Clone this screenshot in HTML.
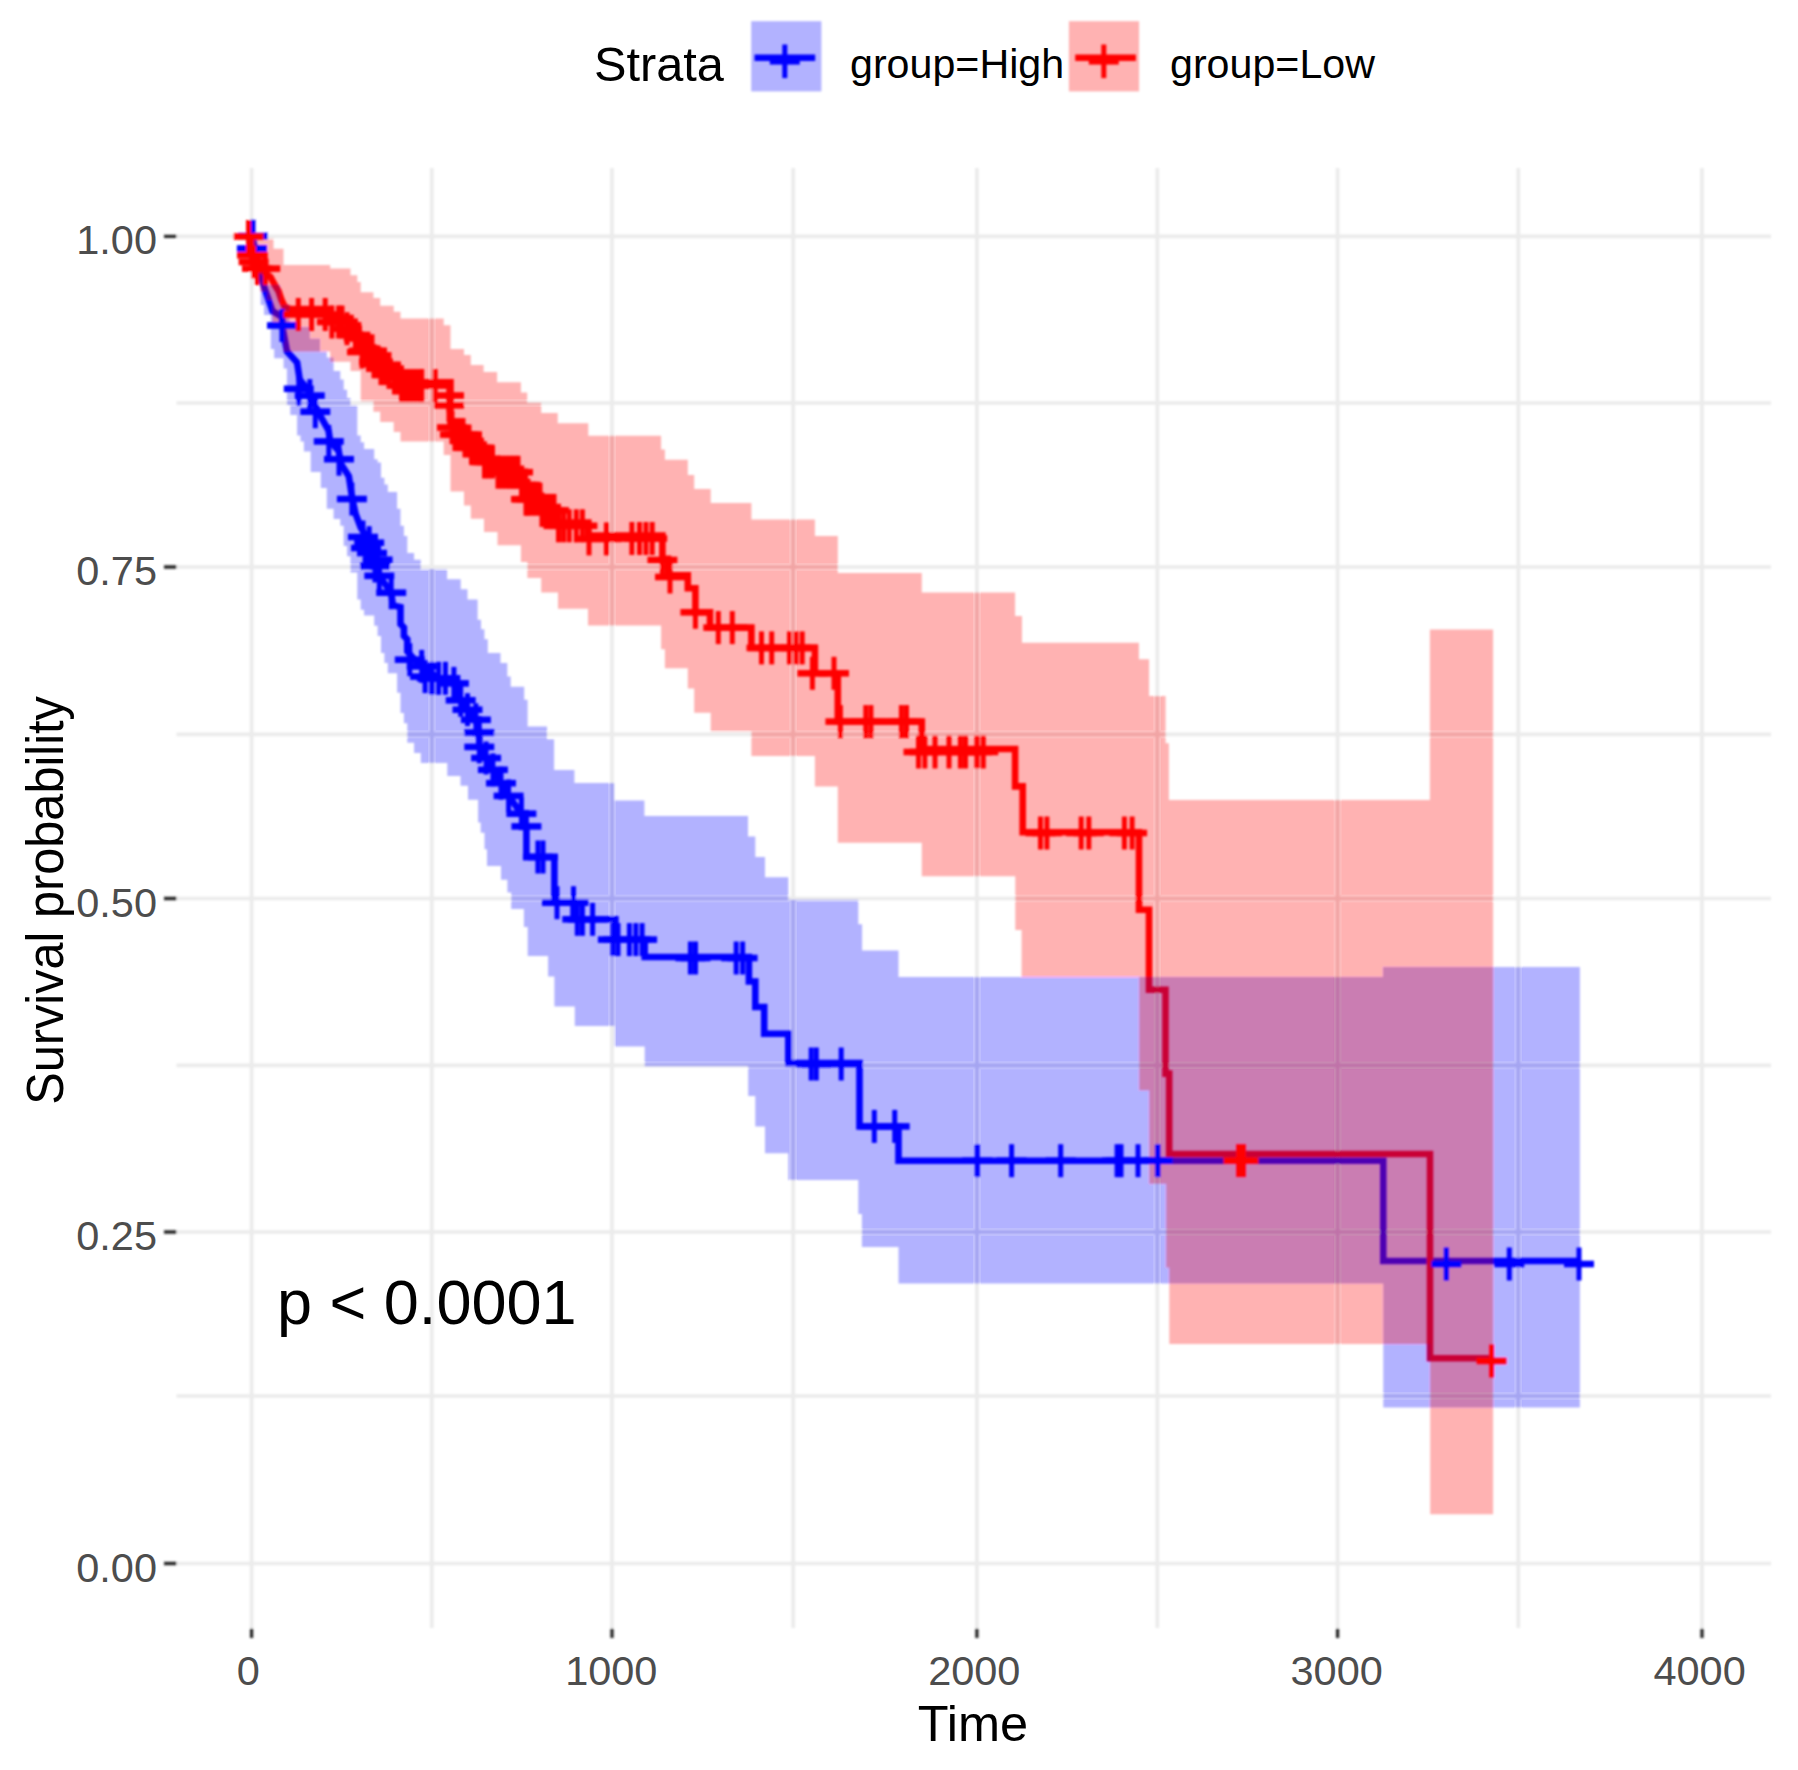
<!DOCTYPE html>
<html><head><meta charset="utf-8"><title>Survival plot</title>
<style>
html,body{margin:0;padding:0;background:#fff;}
svg{display:block;}
text{font-family:"Liberation Sans",Arial,sans-serif;}
</style></head><body>
<svg width="1798" height="1770" viewBox="0 0 1798 1770">
<rect width="1798" height="1770" fill="#fff"/>
<defs><filter id="soft" x="0" y="0" width="1798" height="1770" filterUnits="userSpaceOnUse"><feGaussianBlur stdDeviation="0.9"/></filter></defs>
<g filter="url(#soft)">
<path d="M251.6 168V1628M431.8 168V1628M612 168V1628M793.2 168V1628M976.9 168V1628M1157.3 168V1628M1337.6 168V1628M1518.3 168V1628M1702 168V1628M176.5 236.4H1771M176.5 403H1771M176.5 567H1771M176.5 734.3H1771M176.5 898.5H1771M176.5 1065.4H1771M176.5 1232H1771M176.5 1396H1771M176.5 1563.5H1771" stroke="#EBEBEB" stroke-width="3.7" fill="none"/>
<path d="M251.6 1628.5V1638M612 1628.5V1638M976.9 1628.5V1638M1337.6 1628.5V1638M1702 1628.5V1638M164.0 236.4H176.5M164.0 567H176.5M164.0 898.5H176.5M164.0 1232H176.5M164.0 1563.5H176.5" stroke="#262626" stroke-width="3.3" fill="none"/>
<polyline points="251.6,236.0 255.0,250.0 263.6,285.5 269.7,303.0 272.5,311.0 282.0,317.0 283.0,330.0 287.0,351.5 297.1,362.5 299.7,379.5 308.1,389.7 314.9,404.9 321.7,418.5 328.5,430.3 330.2,441.4 338.6,450.7 341.2,464.2 348.8,476.1 352.2,498.1 355.6,513.9 360.7,527.5 365.8,535.9 369.2,542.7 377.6,559.7 379.3,575.8 391.2,592.7 392.9,605.4 400.5,607.1 400.5,624.1 403.9,627.5 403.9,635.9 407.3,639.3 407.3,651.2 411.5,656.3 421.7,666.4 438.6,678.3 453.9,683.4 460.7,700.3 467.5,709.7 475.9,719.8 479.3,732.5 479.3,746.9 486.1,758.0 492.9,769.8 501.0,783.0 508.6,796.0 521.4,813.7 526.4,826.4 526.4,857.0 554.4,857.0 554.4,902.7 573.5,902.7 573.5,919.3 615.4,919.3 615.4,939.6 644.7,939.6 644.7,957.0 748.9,957.0 748.9,981.5 755.3,981.5 755.3,1007.0 764.2,1007.0 764.2,1033.7 788.3,1033.7 788.3,1063.0 859.5,1063.0 859.5,1126.5 898.5,1126.5 898.5,1160.7 1383.3,1160.7 1383.3,1261.0 1579.9,1261.0" stroke="#0000FF" stroke-width="6.6" fill="none" stroke-linejoin="miter"/>
<polyline points="251.6,236.0 253.0,260.0 261.0,270.0 270.5,277.0 274.5,284.5 278.5,291.0 281.5,300.0 284.5,306.5 290.0,309.0 330.2,309.0 330.2,318.0 350.5,318.0 350.5,325.4 357.3,325.4 357.3,334.7 360.7,334.7 360.7,347.5 373.4,347.5 373.4,358.5 380.2,358.5 380.2,365.3 393.7,365.3 393.7,374.7 400.5,374.7 400.5,382.3 450.5,382.3 450.5,424.2 454.0,424.2 454.0,431.3 464.0,431.3 464.0,437.7 470.8,437.7 470.8,444.5 483.6,444.5 483.6,458.7 497.1,458.7 497.1,468.9 520.9,468.9 520.9,481.7 527.2,481.7 527.2,495.9 541.2,495.9 541.2,507.1 557.7,507.1 557.7,522.5 588.3,522.5 588.3,535.6 662.4,535.6 662.4,558.9 668.0,558.9 668.0,575.4 687.8,575.4 687.8,588.2 695.4,588.2 695.4,612.3 710.0,612.3 710.0,627.6 751.4,627.6 751.4,647.9 814.9,647.9 814.9,673.3 837.8,673.3 837.8,721.6 921.8,721.6 921.8,749.0 1015.1,749.0 1015.1,786.4 1022.7,786.4 1022.7,832.2 1139.0,832.2 1139.0,909.7 1149.0,909.7 1149.0,989.8 1165.5,989.8 1165.5,1073.6 1169.2,1073.6 1169.2,1154.0 1430.0,1154.0 1430.0,1358.2 1491.5,1358.2" stroke="#FF0000" stroke-width="6.6" fill="none" stroke-linejoin="miter"/>
<polygon points="251.6,236.0 258.0,236.0 258.0,262.0 268.0,262.0 268.0,285.0 280.0,285.0 280.0,305.0 289.5,305.0 289.5,327.0 309.8,327.0 309.8,338.8 320.0,338.8 320.0,351.5 326.8,351.5 326.8,357.5 333.6,357.5 333.6,371.0 340.3,371.0 340.3,379.5 343.7,379.5 343.7,389.7 347.1,389.7 347.1,398.1 350.5,398.1 350.5,404.9 357.3,404.9 357.3,435.4 360.7,435.4 360.7,442.2 364.1,442.2 364.1,449.0 374.2,449.0 374.2,459.2 377.6,459.2 377.6,462.5 381.0,462.5 381.0,477.8 384.4,477.8 384.4,484.6 387.8,484.6 387.8,492.0 397.1,492.0 397.1,508.8 400.5,508.8 400.5,525.8 403.9,525.8 403.9,535.9 407.3,535.9 407.3,552.9 414.1,552.9 414.1,559.7 420.8,559.7 420.8,569.0 447.1,569.0 447.1,579.2 460.7,579.2 460.7,589.3 467.5,589.3 467.5,599.5 477.6,599.5 477.6,619.8 481.0,619.8 481.0,629.2 484.4,629.2 484.4,639.3 487.8,639.3 487.8,652.9 500.5,652.9 500.5,663.1 507.3,663.1 507.3,676.6 510.7,676.6 510.7,686.8 524.2,686.8 524.2,699.8 527.6,699.8 527.6,726.6 547.0,726.6 547.0,739.3 554.1,739.3 554.1,770.0 574.4,770.0 574.4,783.0 614.2,783.0 614.2,800.4 644.4,800.4 644.4,816.0 748.0,816.0 748.0,836.4 755.3,836.4 755.3,857.0 765.0,857.0 765.0,877.3 788.3,877.3 788.3,899.7 858.3,899.7 858.3,924.3 862.1,924.3 862.1,950.5 898.5,950.5 898.5,977.0 1383.0,977.0 1383.0,967.0 1579.9,967.0 1579.9,1407.4 1383.3,1407.4 1383.3,1283.6 898.5,1283.6 898.5,1247.1 861.9,1247.1 861.9,1214.1 858.3,1214.1 858.3,1180.0 788.3,1180.0 788.3,1153.2 765.0,1153.2 765.0,1126.5 755.3,1126.5 755.3,1096.0 748.2,1096.0 748.2,1066.2 644.7,1066.2 644.7,1046.4 614.2,1046.4 614.2,1026.0 574.8,1026.0 574.8,1006.5 554.4,1006.5 554.4,976.5 548.1,976.5 548.1,956.1 527.7,956.1 527.7,926.9 523.9,926.9 523.9,909.1 511.2,909.1 511.2,892.6 507.4,892.6 507.4,879.8 501.0,879.8 501.0,865.9 487.0,865.9 487.0,849.3 484.5,849.3 484.5,832.8 480.7,832.8 480.7,822.6 478.1,822.6 478.1,799.8 468.0,799.8 468.0,785.8 460.5,785.8 460.5,776.0 447.3,776.0 447.3,763.0 420.8,763.0 420.8,752.9 414.1,752.9 414.1,742.7 407.3,742.7 407.3,723.2 403.9,723.2 403.9,713.1 400.5,713.1 400.5,692.7 397.1,692.7 397.1,673.2 387.8,673.2 387.8,663.1 384.4,663.1 384.4,652.9 381.0,652.9 381.0,635.9 377.6,635.9 377.6,625.8 374.2,625.8 374.2,615.6 364.1,615.6 364.1,609.7 360.7,609.7 360.7,599.5 357.3,599.5 357.3,572.4 350.5,572.4 350.5,556.3 347.1,556.3 347.1,546.1 343.7,546.1 343.7,525.8 340.3,525.8 340.3,519.0 333.6,519.0 333.6,508.8 326.8,508.8 326.8,488.0 320.8,488.0 320.8,471.9 310.7,471.9 310.7,451.5 303.9,451.5 303.9,441.4 300.5,441.4 300.5,435.4 297.1,435.4 297.1,415.1 290.3,415.1 290.3,404.9 286.9,404.9 286.9,368.5 283.6,368.5 283.6,358.3 274.2,358.3 274.2,349.0 270.8,349.0 270.8,315.1 264.1,315.1 264.1,304.9 260.7,304.9 260.7,270.0 256.0,270.0 256.0,245.0 251.6,245.0" fill="#0000FF" fill-opacity="0.3"/>
<polygon points="251.6,236.0 267.0,236.0 267.0,238.6 273.5,238.6 273.5,248.8 283.5,248.8 283.5,265.1 330.2,265.1 330.2,268.5 350.5,268.5 350.5,275.3 357.3,275.3 357.3,282.0 360.7,282.0 360.7,292.2 373.4,292.2 373.4,298.1 380.2,298.1 380.2,305.8 393.7,305.8 393.7,311.7 400.5,311.7 400.5,318.5 443.7,318.5 443.7,325.3 450.5,325.3 450.5,349.0 464.0,349.0 464.0,354.9 470.8,354.9 470.8,365.1 483.6,365.1 483.6,371.9 497.1,371.9 497.1,382.3 520.9,382.3 520.9,392.6 527.2,392.6 527.2,402.8 541.2,402.8 541.2,413.0 557.7,413.0 557.7,423.2 588.3,423.2 588.3,435.8 661.1,435.8 661.1,449.6 664.9,449.6 664.9,459.8 687.8,459.8 687.8,475.0 694.2,475.0 694.2,489.0 710.7,489.0 710.7,503.0 751.4,503.0 751.4,519.5 814.9,519.5 814.9,536.0 837.8,536.0 837.8,572.9 921.8,572.9 921.8,592.6 1015.1,592.6 1015.1,616.0 1022.0,616.0 1022.0,642.7 1138.9,642.7 1138.9,659.3 1149.1,659.3 1149.1,696.1 1165.6,696.1 1165.6,743.2 1168.9,743.2 1168.9,799.9 1429.9,799.9 1429.9,629.4 1493.1,629.4 1493.1,1514.2 1430.2,1514.2 1430.2,1344.0 1169.3,1344.0 1169.3,1267.5 1166.2,1267.5 1166.2,1183.8 1149.3,1183.8 1149.3,1090.3 1139.3,1090.3 1139.3,977.0 1021.6,977.0 1021.6,930.0 1015.3,930.0 1015.3,876.3 921.8,876.3 921.8,842.7 837.8,842.7 837.8,786.4 814.9,786.4 814.9,756.0 751.4,756.0 751.4,731.8 710.7,731.8 710.7,712.7 694.2,712.7 694.2,688.6 687.8,688.6 687.8,668.2 664.9,668.2 664.9,649.2 661.1,649.2 661.1,625.4 588.0,625.4 588.0,608.7 558.0,608.7 558.0,592.4 541.2,592.4 541.2,578.0 527.4,578.0 527.4,562.0 520.9,562.0 520.9,545.3 497.5,545.3 497.5,532.0 484.0,532.0 484.0,518.8 470.8,518.8 470.8,505.4 464.0,505.4 464.0,491.6 450.5,491.6 450.5,454.9 443.7,454.9 443.7,441.4 400.5,441.4 400.5,432.0 393.7,432.0 393.7,421.9 380.2,421.9 380.2,411.7 373.4,411.7 373.4,401.5 360.7,401.5 360.7,371.0 350.5,371.0 350.5,361.7 330.2,361.7 330.2,351.5 283.6,351.5 283.6,322.0 272.5,322.0 272.5,300.0 267.0,300.0 267.0,291.6 260.0,291.6 260.0,265.0 256.0,265.0 256.0,250.0 251.6,250.0" fill="#FF0000" fill-opacity="0.3"/>
<g>
<path d="M238.0 236.0H268.0" stroke="#0000FF" stroke-width="6.6" fill="none"/><path d="M253.0 219.5V252.5" stroke="#0000FF" stroke-width="5.0" fill="none"/>
<path d="M351.0 548.0H381.0" stroke="#0000FF" stroke-width="6.6" fill="none"/><path d="M366.0 531.5V564.5" stroke="#0000FF" stroke-width="5.0" fill="none"/>
<path d="M357.0 553.0H387.0" stroke="#0000FF" stroke-width="6.6" fill="none"/><path d="M372.0 536.5V569.5" stroke="#0000FF" stroke-width="5.0" fill="none"/>
<path d="M360.0 566.0H390.0" stroke="#0000FF" stroke-width="6.6" fill="none"/><path d="M375.0 549.5V582.5" stroke="#0000FF" stroke-width="5.0" fill="none"/>
<path d="M348.0 537.0H378.0" stroke="#0000FF" stroke-width="6.6" fill="none"/><path d="M363.0 520.5V553.5" stroke="#0000FF" stroke-width="5.0" fill="none"/>
<path d="M236.9 248.5H266.9" stroke="#0000FF" stroke-width="6.6" fill="none"/><path d="M251.9 232.0V265.0" stroke="#0000FF" stroke-width="5.0" fill="none"/>
<path d="M267.0 325.5H297.0" stroke="#0000FF" stroke-width="6.6" fill="none"/><path d="M282.0 309.0V342.0" stroke="#0000FF" stroke-width="5.0" fill="none"/>
<path d="M283.8 388.8H313.8" stroke="#0000FF" stroke-width="6.6" fill="none"/><path d="M298.8 372.3V405.3" stroke="#0000FF" stroke-width="5.0" fill="none"/>
<path d="M294.8 395.6H324.8" stroke="#0000FF" stroke-width="6.6" fill="none"/><path d="M309.8 379.1V412.1" stroke="#0000FF" stroke-width="5.0" fill="none"/>
<path d="M300.3 411.7H330.3" stroke="#0000FF" stroke-width="6.6" fill="none"/><path d="M315.3 395.2V428.2" stroke="#0000FF" stroke-width="5.0" fill="none"/>
<path d="M313.8 441.4H343.8" stroke="#0000FF" stroke-width="6.6" fill="none"/><path d="M328.8 424.9V457.9" stroke="#0000FF" stroke-width="5.0" fill="none"/>
<path d="M324.0 459.2H354.0" stroke="#0000FF" stroke-width="6.6" fill="none"/><path d="M339.0 442.7V475.7" stroke="#0000FF" stroke-width="5.0" fill="none"/>
<path d="M336.9 499.0H366.9" stroke="#0000FF" stroke-width="6.6" fill="none"/><path d="M351.9 482.5V515.5" stroke="#0000FF" stroke-width="5.0" fill="none"/>
<path d="M354.2 542.7H384.2" stroke="#0000FF" stroke-width="6.6" fill="none"/><path d="M369.2 526.2V559.2" stroke="#0000FF" stroke-width="5.0" fill="none"/>
<path d="M362.6 559.7H392.6" stroke="#0000FF" stroke-width="6.6" fill="none"/><path d="M377.6 543.2V576.2" stroke="#0000FF" stroke-width="5.0" fill="none"/>
<path d="M364.3 575.8H394.3" stroke="#0000FF" stroke-width="6.6" fill="none"/><path d="M379.3 559.3V592.3" stroke="#0000FF" stroke-width="5.0" fill="none"/>
<path d="M376.2 592.7H406.2" stroke="#0000FF" stroke-width="6.6" fill="none"/><path d="M391.2 576.2V609.2" stroke="#0000FF" stroke-width="5.0" fill="none"/>
<path d="M394.8 659.7H424.8" stroke="#0000FF" stroke-width="6.6" fill="none"/><path d="M409.8 643.2V676.2" stroke="#0000FF" stroke-width="5.0" fill="none"/>
<path d="M406.7 666.4H436.7" stroke="#0000FF" stroke-width="6.6" fill="none"/><path d="M421.7 649.9V682.9" stroke="#0000FF" stroke-width="5.0" fill="none"/>
<path d="M410.1 676.6H440.1" stroke="#0000FF" stroke-width="6.6" fill="none"/><path d="M425.1 660.1V693.1" stroke="#0000FF" stroke-width="5.0" fill="none"/>
<path d="M416.9 678.3H446.9" stroke="#0000FF" stroke-width="6.6" fill="none"/><path d="M431.9 661.8V694.8" stroke="#0000FF" stroke-width="5.0" fill="none"/>
<path d="M423.6 678.3H453.6" stroke="#0000FF" stroke-width="6.6" fill="none"/><path d="M438.6 661.8V694.8" stroke="#0000FF" stroke-width="5.0" fill="none"/>
<path d="M430.4 678.3H460.4" stroke="#0000FF" stroke-width="6.6" fill="none"/><path d="M445.4 661.8V694.8" stroke="#0000FF" stroke-width="5.0" fill="none"/>
<path d="M438.9 683.4H468.9" stroke="#0000FF" stroke-width="6.6" fill="none"/><path d="M453.9 666.9V699.9" stroke="#0000FF" stroke-width="5.0" fill="none"/>
<path d="M445.7 700.3H475.7" stroke="#0000FF" stroke-width="6.6" fill="none"/><path d="M460.7 683.8V716.8" stroke="#0000FF" stroke-width="5.0" fill="none"/>
<path d="M452.5 709.7H482.5" stroke="#0000FF" stroke-width="6.6" fill="none"/><path d="M467.5 693.2V726.2" stroke="#0000FF" stroke-width="5.0" fill="none"/>
<path d="M460.9 719.8H490.9" stroke="#0000FF" stroke-width="6.6" fill="none"/><path d="M475.9 703.3V736.3" stroke="#0000FF" stroke-width="5.0" fill="none"/>
<path d="M464.3 732.5H494.3" stroke="#0000FF" stroke-width="6.6" fill="none"/><path d="M479.3 716.0V749.0" stroke="#0000FF" stroke-width="5.0" fill="none"/>
<path d="M464.3 746.9H494.3" stroke="#0000FF" stroke-width="6.6" fill="none"/><path d="M479.3 730.4V763.4" stroke="#0000FF" stroke-width="5.0" fill="none"/>
<path d="M471.1 758.0H501.1" stroke="#0000FF" stroke-width="6.6" fill="none"/><path d="M486.1 741.5V774.5" stroke="#0000FF" stroke-width="5.0" fill="none"/>
<path d="M477.9 769.8H507.9" stroke="#0000FF" stroke-width="6.6" fill="none"/><path d="M492.9 753.3V786.3" stroke="#0000FF" stroke-width="5.0" fill="none"/>
<path d="M486.0 783.2H516.0" stroke="#0000FF" stroke-width="6.6" fill="none"/><path d="M501.0 766.7V799.7" stroke="#0000FF" stroke-width="5.0" fill="none"/>
<path d="M493.6 795.9H523.6" stroke="#0000FF" stroke-width="6.6" fill="none"/><path d="M508.6 779.4V812.4" stroke="#0000FF" stroke-width="5.0" fill="none"/>
<path d="M506.4 813.7H536.4" stroke="#0000FF" stroke-width="6.6" fill="none"/><path d="M521.4 797.2V830.2" stroke="#0000FF" stroke-width="5.0" fill="none"/>
<path d="M511.4 826.4H541.4" stroke="#0000FF" stroke-width="6.6" fill="none"/><path d="M526.4 809.9V842.9" stroke="#0000FF" stroke-width="5.0" fill="none"/>
<path d="M522.9 857.0H552.9" stroke="#0000FF" stroke-width="6.6" fill="none"/><path d="M537.9 840.5V873.5" stroke="#0000FF" stroke-width="5.0" fill="none"/>
<path d="M528.0 857.0H558.0" stroke="#0000FF" stroke-width="6.6" fill="none"/><path d="M543.0 840.5V873.5" stroke="#0000FF" stroke-width="5.0" fill="none"/>
<path d="M542.0 902.7H572.0" stroke="#0000FF" stroke-width="6.6" fill="none"/><path d="M557.0 886.2V919.2" stroke="#0000FF" stroke-width="5.0" fill="none"/>
<path d="M558.5 902.7H588.5" stroke="#0000FF" stroke-width="6.6" fill="none"/><path d="M573.5 886.2V919.2" stroke="#0000FF" stroke-width="5.0" fill="none"/>
<path d="M562.3 919.3H592.3" stroke="#0000FF" stroke-width="6.6" fill="none"/><path d="M577.3 902.8V935.8" stroke="#0000FF" stroke-width="5.0" fill="none"/>
<path d="M567.4 919.3H597.4" stroke="#0000FF" stroke-width="6.6" fill="none"/><path d="M582.4 902.8V935.8" stroke="#0000FF" stroke-width="5.0" fill="none"/>
<path d="M577.6 919.3H607.6" stroke="#0000FF" stroke-width="6.6" fill="none"/><path d="M592.6 902.8V935.8" stroke="#0000FF" stroke-width="5.0" fill="none"/>
<path d="M597.9 939.6H627.9" stroke="#0000FF" stroke-width="6.6" fill="none"/><path d="M612.9 923.1V956.1" stroke="#0000FF" stroke-width="5.0" fill="none"/>
<path d="M603.0 939.6H633.0" stroke="#0000FF" stroke-width="6.6" fill="none"/><path d="M618.0 923.1V956.1" stroke="#0000FF" stroke-width="5.0" fill="none"/>
<path d="M614.4 939.6H644.4" stroke="#0000FF" stroke-width="6.6" fill="none"/><path d="M629.4 923.1V956.1" stroke="#0000FF" stroke-width="5.0" fill="none"/>
<path d="M620.8 939.6H650.8" stroke="#0000FF" stroke-width="6.6" fill="none"/><path d="M635.8 923.1V956.1" stroke="#0000FF" stroke-width="5.0" fill="none"/>
<path d="M627.1 939.6H657.1" stroke="#0000FF" stroke-width="6.6" fill="none"/><path d="M642.1 923.1V956.1" stroke="#0000FF" stroke-width="5.0" fill="none"/>
<path d="M675.4 958.0H705.4" stroke="#0000FF" stroke-width="6.6" fill="none"/><path d="M690.4 941.5V974.5" stroke="#0000FF" stroke-width="5.0" fill="none"/>
<path d="M680.5 958.0H710.5" stroke="#0000FF" stroke-width="6.6" fill="none"/><path d="M695.5 941.5V974.5" stroke="#0000FF" stroke-width="5.0" fill="none"/>
<path d="M721.2 958.0H751.2" stroke="#0000FF" stroke-width="6.6" fill="none"/><path d="M736.2 941.5V974.5" stroke="#0000FF" stroke-width="5.0" fill="none"/>
<path d="M727.6 958.0H757.6" stroke="#0000FF" stroke-width="6.6" fill="none"/><path d="M742.6 941.5V974.5" stroke="#0000FF" stroke-width="5.0" fill="none"/>
<path d="M796.2 1064.0H826.2" stroke="#0000FF" stroke-width="6.6" fill="none"/><path d="M811.2 1047.5V1080.5" stroke="#0000FF" stroke-width="5.0" fill="none"/>
<path d="M801.3 1064.0H831.3" stroke="#0000FF" stroke-width="6.6" fill="none"/><path d="M816.3 1047.5V1080.5" stroke="#0000FF" stroke-width="5.0" fill="none"/>
<path d="M826.2 1064.0H856.2" stroke="#0000FF" stroke-width="6.6" fill="none"/><path d="M841.2 1047.5V1080.5" stroke="#0000FF" stroke-width="5.0" fill="none"/>
<path d="M859.3 1126.4H889.3" stroke="#0000FF" stroke-width="6.6" fill="none"/><path d="M874.3 1109.9V1142.9" stroke="#0000FF" stroke-width="5.0" fill="none"/>
<path d="M879.7 1126.4H909.7" stroke="#0000FF" stroke-width="6.6" fill="none"/><path d="M894.7 1109.9V1142.9" stroke="#0000FF" stroke-width="5.0" fill="none"/>
<path d="M962.3 1160.7H992.3" stroke="#0000FF" stroke-width="6.6" fill="none"/><path d="M977.3 1144.2V1177.2" stroke="#0000FF" stroke-width="5.0" fill="none"/>
<path d="M996.6 1160.7H1026.6" stroke="#0000FF" stroke-width="6.6" fill="none"/><path d="M1011.6 1144.2V1177.2" stroke="#0000FF" stroke-width="5.0" fill="none"/>
<path d="M1045.7 1160.7H1075.7" stroke="#0000FF" stroke-width="6.6" fill="none"/><path d="M1060.7 1144.2V1177.2" stroke="#0000FF" stroke-width="5.0" fill="none"/>
<path d="M1102.1 1160.7H1132.1" stroke="#0000FF" stroke-width="6.6" fill="none"/><path d="M1117.1 1144.2V1177.2" stroke="#0000FF" stroke-width="5.0" fill="none"/>
<path d="M1106.0 1160.7H1136.0" stroke="#0000FF" stroke-width="6.6" fill="none"/><path d="M1121.0 1144.2V1177.2" stroke="#0000FF" stroke-width="5.0" fill="none"/>
<path d="M1123.0 1160.7H1153.0" stroke="#0000FF" stroke-width="6.6" fill="none"/><path d="M1138.0 1144.2V1177.2" stroke="#0000FF" stroke-width="5.0" fill="none"/>
<path d="M1142.8 1160.7H1172.8" stroke="#0000FF" stroke-width="6.6" fill="none"/><path d="M1157.8 1144.2V1177.2" stroke="#0000FF" stroke-width="5.0" fill="none"/>
<path d="M1431.3 1264.0H1461.3" stroke="#0000FF" stroke-width="6.6" fill="none"/><path d="M1446.3 1247.5V1280.5" stroke="#0000FF" stroke-width="5.0" fill="none"/>
<path d="M1494.3 1264.0H1524.3" stroke="#0000FF" stroke-width="6.6" fill="none"/><path d="M1509.3 1247.5V1280.5" stroke="#0000FF" stroke-width="5.0" fill="none"/>
<path d="M1564.0 1264.0H1594.0" stroke="#0000FF" stroke-width="6.6" fill="none"/><path d="M1579.0 1247.5V1280.5" stroke="#0000FF" stroke-width="5.0" fill="none"/>
</g><g>
<path d="M233.5 236.5H263.5" stroke="#FF0000" stroke-width="6.6" fill="none"/><path d="M248.5 220.0V253.0" stroke="#FF0000" stroke-width="5.0" fill="none"/>
<path d="M237.0 255.3H267.0" stroke="#FF0000" stroke-width="6.6" fill="none"/><path d="M252.0 238.8V271.8" stroke="#FF0000" stroke-width="5.0" fill="none"/>
<path d="M238.6 262.0H268.6" stroke="#FF0000" stroke-width="6.6" fill="none"/><path d="M253.6 245.5V278.5" stroke="#FF0000" stroke-width="5.0" fill="none"/>
<path d="M242.0 268.6H272.0" stroke="#FF0000" stroke-width="6.6" fill="none"/><path d="M257.0 252.1V285.1" stroke="#FF0000" stroke-width="5.0" fill="none"/>
<path d="M250.3 268.6H280.3" stroke="#FF0000" stroke-width="6.6" fill="none"/><path d="M265.3 252.1V285.1" stroke="#FF0000" stroke-width="5.0" fill="none"/>
<path d="M283.3 314.5H313.3" stroke="#FF0000" stroke-width="6.6" fill="none"/><path d="M298.3 298.0V331.0" stroke="#FF0000" stroke-width="5.0" fill="none"/>
<path d="M296.6 314.5H326.6" stroke="#FF0000" stroke-width="6.6" fill="none"/><path d="M311.6 298.0V331.0" stroke="#FF0000" stroke-width="5.0" fill="none"/>
<path d="M310.2 314.5H340.2" stroke="#FF0000" stroke-width="6.6" fill="none"/><path d="M325.2 298.0V331.0" stroke="#FF0000" stroke-width="5.0" fill="none"/>
<path d="M349.0 350.8H379.0" stroke="#FF0000" stroke-width="6.6" fill="none"/><path d="M364.0 334.3V367.3" stroke="#FF0000" stroke-width="5.0" fill="none"/>
<path d="M353.0 350.8H383.0" stroke="#FF0000" stroke-width="6.6" fill="none"/><path d="M368.0 334.3V367.3" stroke="#FF0000" stroke-width="5.0" fill="none"/>
<path d="M357.0 350.8H387.0" stroke="#FF0000" stroke-width="6.6" fill="none"/><path d="M372.0 334.3V367.3" stroke="#FF0000" stroke-width="5.0" fill="none"/>
<path d="M359.0 361.8H389.0" stroke="#FF0000" stroke-width="6.6" fill="none"/><path d="M374.0 345.3V378.3" stroke="#FF0000" stroke-width="5.0" fill="none"/>
<path d="M363.0 361.8H393.0" stroke="#FF0000" stroke-width="6.6" fill="none"/><path d="M378.0 345.3V378.3" stroke="#FF0000" stroke-width="5.0" fill="none"/>
<path d="M366.0 368.6H396.0" stroke="#FF0000" stroke-width="6.6" fill="none"/><path d="M381.0 352.1V385.1" stroke="#FF0000" stroke-width="5.0" fill="none"/>
<path d="M370.0 368.6H400.0" stroke="#FF0000" stroke-width="6.6" fill="none"/><path d="M385.0 352.1V385.1" stroke="#FF0000" stroke-width="5.0" fill="none"/>
<path d="M374.0 368.6H404.0" stroke="#FF0000" stroke-width="6.6" fill="none"/><path d="M389.0 352.1V385.1" stroke="#FF0000" stroke-width="5.0" fill="none"/>
<path d="M379.5 378.0H409.5" stroke="#FF0000" stroke-width="6.6" fill="none"/><path d="M394.5 361.5V394.5" stroke="#FF0000" stroke-width="5.0" fill="none"/>
<path d="M383.5 378.0H413.5" stroke="#FF0000" stroke-width="6.6" fill="none"/><path d="M398.5 361.5V394.5" stroke="#FF0000" stroke-width="5.0" fill="none"/>
<path d="M386.5 385.6H416.5" stroke="#FF0000" stroke-width="6.6" fill="none"/><path d="M401.5 369.1V402.1" stroke="#FF0000" stroke-width="5.0" fill="none"/>
<path d="M390.5 385.6H420.5" stroke="#FF0000" stroke-width="6.6" fill="none"/><path d="M405.5 369.1V402.1" stroke="#FF0000" stroke-width="5.0" fill="none"/>
<path d="M394.5 385.6H424.5" stroke="#FF0000" stroke-width="6.6" fill="none"/><path d="M409.5 369.1V402.1" stroke="#FF0000" stroke-width="5.0" fill="none"/>
<path d="M398.5 385.6H428.5" stroke="#FF0000" stroke-width="6.6" fill="none"/><path d="M413.5 369.1V402.1" stroke="#FF0000" stroke-width="5.0" fill="none"/>
<path d="M402.5 385.6H432.5" stroke="#FF0000" stroke-width="6.6" fill="none"/><path d="M417.5 369.1V402.1" stroke="#FF0000" stroke-width="5.0" fill="none"/>
<path d="M406.5 385.6H436.5" stroke="#FF0000" stroke-width="6.6" fill="none"/><path d="M421.5 369.1V402.1" stroke="#FF0000" stroke-width="5.0" fill="none"/>
<path d="M440.0 434.6H470.0" stroke="#FF0000" stroke-width="6.6" fill="none"/><path d="M455.0 418.1V451.1" stroke="#FF0000" stroke-width="5.0" fill="none"/>
<path d="M444.0 434.6H474.0" stroke="#FF0000" stroke-width="6.6" fill="none"/><path d="M459.0 418.1V451.1" stroke="#FF0000" stroke-width="5.0" fill="none"/>
<path d="M448.0 434.6H478.0" stroke="#FF0000" stroke-width="6.6" fill="none"/><path d="M463.0 418.1V451.1" stroke="#FF0000" stroke-width="5.0" fill="none"/>
<path d="M450.0 441.0H480.0" stroke="#FF0000" stroke-width="6.6" fill="none"/><path d="M465.0 424.5V457.5" stroke="#FF0000" stroke-width="5.0" fill="none"/>
<path d="M454.0 441.0H484.0" stroke="#FF0000" stroke-width="6.6" fill="none"/><path d="M469.0 424.5V457.5" stroke="#FF0000" stroke-width="5.0" fill="none"/>
<path d="M456.5 447.8H486.5" stroke="#FF0000" stroke-width="6.6" fill="none"/><path d="M471.5 431.3V464.3" stroke="#FF0000" stroke-width="5.0" fill="none"/>
<path d="M460.5 447.8H490.5" stroke="#FF0000" stroke-width="6.6" fill="none"/><path d="M475.5 431.3V464.3" stroke="#FF0000" stroke-width="5.0" fill="none"/>
<path d="M464.5 447.8H494.5" stroke="#FF0000" stroke-width="6.6" fill="none"/><path d="M479.5 431.3V464.3" stroke="#FF0000" stroke-width="5.0" fill="none"/>
<path d="M469.5 462.0H499.5" stroke="#FF0000" stroke-width="6.6" fill="none"/><path d="M484.5 445.5V478.5" stroke="#FF0000" stroke-width="5.0" fill="none"/>
<path d="M473.5 462.0H503.5" stroke="#FF0000" stroke-width="6.6" fill="none"/><path d="M488.5 445.5V478.5" stroke="#FF0000" stroke-width="5.0" fill="none"/>
<path d="M477.5 462.0H507.5" stroke="#FF0000" stroke-width="6.6" fill="none"/><path d="M492.5 445.5V478.5" stroke="#FF0000" stroke-width="5.0" fill="none"/>
<path d="M483.0 472.2H513.0" stroke="#FF0000" stroke-width="6.6" fill="none"/><path d="M498.0 455.7V488.7" stroke="#FF0000" stroke-width="5.0" fill="none"/>
<path d="M487.0 472.2H517.0" stroke="#FF0000" stroke-width="6.6" fill="none"/><path d="M502.0 455.7V488.7" stroke="#FF0000" stroke-width="5.0" fill="none"/>
<path d="M491.0 472.2H521.0" stroke="#FF0000" stroke-width="6.6" fill="none"/><path d="M506.0 455.7V488.7" stroke="#FF0000" stroke-width="5.0" fill="none"/>
<path d="M495.0 472.2H525.0" stroke="#FF0000" stroke-width="6.6" fill="none"/><path d="M510.0 455.7V488.7" stroke="#FF0000" stroke-width="5.0" fill="none"/>
<path d="M499.0 472.2H529.0" stroke="#FF0000" stroke-width="6.6" fill="none"/><path d="M514.0 455.7V488.7" stroke="#FF0000" stroke-width="5.0" fill="none"/>
<path d="M503.0 472.2H533.0" stroke="#FF0000" stroke-width="6.6" fill="none"/><path d="M518.0 455.7V488.7" stroke="#FF0000" stroke-width="5.0" fill="none"/>
<path d="M506.5 485.0H536.5" stroke="#FF0000" stroke-width="6.6" fill="none"/><path d="M521.5 468.5V501.5" stroke="#FF0000" stroke-width="5.0" fill="none"/>
<path d="M510.5 485.0H540.5" stroke="#FF0000" stroke-width="6.6" fill="none"/><path d="M525.5 468.5V501.5" stroke="#FF0000" stroke-width="5.0" fill="none"/>
<path d="M513.0 499.2H543.0" stroke="#FF0000" stroke-width="6.6" fill="none"/><path d="M528.0 482.7V515.7" stroke="#FF0000" stroke-width="5.0" fill="none"/>
<path d="M517.0 499.2H547.0" stroke="#FF0000" stroke-width="6.6" fill="none"/><path d="M532.0 482.7V515.7" stroke="#FF0000" stroke-width="5.0" fill="none"/>
<path d="M521.0 499.2H551.0" stroke="#FF0000" stroke-width="6.6" fill="none"/><path d="M536.0 482.7V515.7" stroke="#FF0000" stroke-width="5.0" fill="none"/>
<path d="M525.0 499.2H555.0" stroke="#FF0000" stroke-width="6.6" fill="none"/><path d="M540.0 482.7V515.7" stroke="#FF0000" stroke-width="5.0" fill="none"/>
<path d="M527.0 510.4H557.0" stroke="#FF0000" stroke-width="6.6" fill="none"/><path d="M542.0 493.9V526.9" stroke="#FF0000" stroke-width="5.0" fill="none"/>
<path d="M531.0 510.4H561.0" stroke="#FF0000" stroke-width="6.6" fill="none"/><path d="M546.0 493.9V526.9" stroke="#FF0000" stroke-width="5.0" fill="none"/>
<path d="M535.0 510.4H565.0" stroke="#FF0000" stroke-width="6.6" fill="none"/><path d="M550.0 493.9V526.9" stroke="#FF0000" stroke-width="5.0" fill="none"/>
<path d="M539.0 510.4H569.0" stroke="#FF0000" stroke-width="6.6" fill="none"/><path d="M554.0 493.9V526.9" stroke="#FF0000" stroke-width="5.0" fill="none"/>
<path d="M543.5 525.8H573.5" stroke="#FF0000" stroke-width="6.6" fill="none"/><path d="M558.5 509.3V542.3" stroke="#FF0000" stroke-width="5.0" fill="none"/>
<path d="M316.9 322.0H346.9" stroke="#FF0000" stroke-width="6.6" fill="none"/><path d="M331.9 305.5V338.5" stroke="#FF0000" stroke-width="5.0" fill="none"/>
<path d="M323.6 322.0H353.6" stroke="#FF0000" stroke-width="6.6" fill="none"/><path d="M338.6 305.5V338.5" stroke="#FF0000" stroke-width="5.0" fill="none"/>
<path d="M327.0 322.0H357.0" stroke="#FF0000" stroke-width="6.6" fill="none"/><path d="M342.0 305.5V338.5" stroke="#FF0000" stroke-width="5.0" fill="none"/>
<path d="M332.0 328.7H362.0" stroke="#FF0000" stroke-width="6.6" fill="none"/><path d="M347.0 312.2V345.2" stroke="#FF0000" stroke-width="5.0" fill="none"/>
<path d="M340.4 335.0H370.4" stroke="#FF0000" stroke-width="6.6" fill="none"/><path d="M355.4 318.5V351.5" stroke="#FF0000" stroke-width="5.0" fill="none"/>
<path d="M343.8 338.5H373.8" stroke="#FF0000" stroke-width="6.6" fill="none"/><path d="M358.8 322.0V355.0" stroke="#FF0000" stroke-width="5.0" fill="none"/>
<path d="M347.0 352.0H377.0" stroke="#FF0000" stroke-width="6.6" fill="none"/><path d="M362.0 335.5V368.5" stroke="#FF0000" stroke-width="5.0" fill="none"/>
<path d="M406.7 385.6H436.7" stroke="#FF0000" stroke-width="6.6" fill="none"/><path d="M421.7 369.1V402.1" stroke="#FF0000" stroke-width="5.0" fill="none"/>
<path d="M420.2 385.6H450.2" stroke="#FF0000" stroke-width="6.6" fill="none"/><path d="M435.2 369.1V402.1" stroke="#FF0000" stroke-width="5.0" fill="none"/>
<path d="M434.0 395.5H464.0" stroke="#FF0000" stroke-width="6.6" fill="none"/><path d="M449.0 379.0V412.0" stroke="#FF0000" stroke-width="5.0" fill="none"/>
<path d="M434.0 405.4H464.0" stroke="#FF0000" stroke-width="6.6" fill="none"/><path d="M449.0 388.9V421.9" stroke="#FF0000" stroke-width="5.0" fill="none"/>
<path d="M437.0 427.5H467.0" stroke="#FF0000" stroke-width="6.6" fill="none"/><path d="M452.0 411.0V444.0" stroke="#FF0000" stroke-width="5.0" fill="none"/>
<path d="M511.0 499.2H541.0" stroke="#FF0000" stroke-width="6.6" fill="none"/><path d="M526.0 482.7V515.7" stroke="#FF0000" stroke-width="5.0" fill="none"/>
<path d="M548.6 525.8H578.6" stroke="#FF0000" stroke-width="6.6" fill="none"/><path d="M563.6 509.3V542.3" stroke="#FF0000" stroke-width="5.0" fill="none"/>
<path d="M554.2 525.8H584.2" stroke="#FF0000" stroke-width="6.6" fill="none"/><path d="M569.2 509.3V542.3" stroke="#FF0000" stroke-width="5.0" fill="none"/>
<path d="M561.3 525.8H591.3" stroke="#FF0000" stroke-width="6.6" fill="none"/><path d="M576.3 509.3V542.3" stroke="#FF0000" stroke-width="5.0" fill="none"/>
<path d="M567.4 525.8H597.4" stroke="#FF0000" stroke-width="6.6" fill="none"/><path d="M582.4 509.3V542.3" stroke="#FF0000" stroke-width="5.0" fill="none"/>
<path d="M574.0 538.9H604.0" stroke="#FF0000" stroke-width="6.6" fill="none"/><path d="M589.0 522.4V555.4" stroke="#FF0000" stroke-width="5.0" fill="none"/>
<path d="M591.4 538.9H621.4" stroke="#FF0000" stroke-width="6.6" fill="none"/><path d="M606.4 522.4V555.4" stroke="#FF0000" stroke-width="5.0" fill="none"/>
<path d="M616.9 538.5H646.9" stroke="#FF0000" stroke-width="6.6" fill="none"/><path d="M631.9 522.0V555.0" stroke="#FF0000" stroke-width="5.0" fill="none"/>
<path d="M624.5 538.5H654.5" stroke="#FF0000" stroke-width="6.6" fill="none"/><path d="M639.5 522.0V555.0" stroke="#FF0000" stroke-width="5.0" fill="none"/>
<path d="M630.9 538.5H660.9" stroke="#FF0000" stroke-width="6.6" fill="none"/><path d="M645.9 522.0V555.0" stroke="#FF0000" stroke-width="5.0" fill="none"/>
<path d="M637.2 538.5H667.2" stroke="#FF0000" stroke-width="6.6" fill="none"/><path d="M652.2 522.0V555.0" stroke="#FF0000" stroke-width="5.0" fill="none"/>
<path d="M647.4 560.0H677.4" stroke="#FF0000" stroke-width="6.6" fill="none"/><path d="M662.4 543.5V576.5" stroke="#FF0000" stroke-width="5.0" fill="none"/>
<path d="M655.0 577.0H685.0" stroke="#FF0000" stroke-width="6.6" fill="none"/><path d="M670.0 560.5V593.5" stroke="#FF0000" stroke-width="5.0" fill="none"/>
<path d="M680.4 612.3H710.4" stroke="#FF0000" stroke-width="6.6" fill="none"/><path d="M695.4 595.8V628.8" stroke="#FF0000" stroke-width="5.0" fill="none"/>
<path d="M703.3 627.6H733.3" stroke="#FF0000" stroke-width="6.6" fill="none"/><path d="M718.3 611.1V644.1" stroke="#FF0000" stroke-width="5.0" fill="none"/>
<path d="M717.3 627.6H747.3" stroke="#FF0000" stroke-width="6.6" fill="none"/><path d="M732.3 611.1V644.1" stroke="#FF0000" stroke-width="5.0" fill="none"/>
<path d="M746.5 647.9H776.5" stroke="#FF0000" stroke-width="6.6" fill="none"/><path d="M761.5 631.4V664.4" stroke="#FF0000" stroke-width="5.0" fill="none"/>
<path d="M756.7 647.9H786.7" stroke="#FF0000" stroke-width="6.6" fill="none"/><path d="M771.7 631.4V664.4" stroke="#FF0000" stroke-width="5.0" fill="none"/>
<path d="M774.5 647.9H804.5" stroke="#FF0000" stroke-width="6.6" fill="none"/><path d="M789.5 631.4V664.4" stroke="#FF0000" stroke-width="5.0" fill="none"/>
<path d="M780.9 647.9H810.9" stroke="#FF0000" stroke-width="6.6" fill="none"/><path d="M795.9 631.4V664.4" stroke="#FF0000" stroke-width="5.0" fill="none"/>
<path d="M787.2 647.9H817.2" stroke="#FF0000" stroke-width="6.6" fill="none"/><path d="M802.2 631.4V664.4" stroke="#FF0000" stroke-width="5.0" fill="none"/>
<path d="M797.4 673.3H827.4" stroke="#FF0000" stroke-width="6.6" fill="none"/><path d="M812.4 656.8V689.8" stroke="#FF0000" stroke-width="5.0" fill="none"/>
<path d="M819.0 673.3H849.0" stroke="#FF0000" stroke-width="6.6" fill="none"/><path d="M834.0 656.8V689.8" stroke="#FF0000" stroke-width="5.0" fill="none"/>
<path d="M825.4 721.6H855.4" stroke="#FF0000" stroke-width="6.6" fill="none"/><path d="M840.4 705.1V738.1" stroke="#FF0000" stroke-width="5.0" fill="none"/>
<path d="M850.8 721.6H880.8" stroke="#FF0000" stroke-width="6.6" fill="none"/><path d="M865.8 705.1V738.1" stroke="#FF0000" stroke-width="5.0" fill="none"/>
<path d="M855.9 721.6H885.9" stroke="#FF0000" stroke-width="6.6" fill="none"/><path d="M870.9 705.1V738.1" stroke="#FF0000" stroke-width="5.0" fill="none"/>
<path d="M886.4 721.6H916.4" stroke="#FF0000" stroke-width="6.6" fill="none"/><path d="M901.4 705.1V738.1" stroke="#FF0000" stroke-width="5.0" fill="none"/>
<path d="M891.5 721.6H921.5" stroke="#FF0000" stroke-width="6.6" fill="none"/><path d="M906.5 705.1V738.1" stroke="#FF0000" stroke-width="5.0" fill="none"/>
<path d="M903.5 752.0H933.5" stroke="#FF0000" stroke-width="6.6" fill="none"/><path d="M918.5 735.5V768.5" stroke="#FF0000" stroke-width="5.0" fill="none"/>
<path d="M909.8 752.0H939.8" stroke="#FF0000" stroke-width="6.6" fill="none"/><path d="M924.8 735.5V768.5" stroke="#FF0000" stroke-width="5.0" fill="none"/>
<path d="M920.0 752.0H950.0" stroke="#FF0000" stroke-width="6.6" fill="none"/><path d="M935.0 735.5V768.5" stroke="#FF0000" stroke-width="5.0" fill="none"/>
<path d="M934.0 752.0H964.0" stroke="#FF0000" stroke-width="6.6" fill="none"/><path d="M949.0 735.5V768.5" stroke="#FF0000" stroke-width="5.0" fill="none"/>
<path d="M945.4 752.0H975.4" stroke="#FF0000" stroke-width="6.6" fill="none"/><path d="M960.4 735.5V768.5" stroke="#FF0000" stroke-width="5.0" fill="none"/>
<path d="M950.5 752.0H980.5" stroke="#FF0000" stroke-width="6.6" fill="none"/><path d="M965.5 735.5V768.5" stroke="#FF0000" stroke-width="5.0" fill="none"/>
<path d="M962.0 752.0H992.0" stroke="#FF0000" stroke-width="6.6" fill="none"/><path d="M977.0 735.5V768.5" stroke="#FF0000" stroke-width="5.0" fill="none"/>
<path d="M968.3 752.0H998.3" stroke="#FF0000" stroke-width="6.6" fill="none"/><path d="M983.3 735.5V768.5" stroke="#FF0000" stroke-width="5.0" fill="none"/>
<path d="M1025.5 833.0H1055.5" stroke="#FF0000" stroke-width="6.6" fill="none"/><path d="M1040.5 816.5V849.5" stroke="#FF0000" stroke-width="5.0" fill="none"/>
<path d="M1031.9 833.0H1061.9" stroke="#FF0000" stroke-width="6.6" fill="none"/><path d="M1046.9 816.5V849.5" stroke="#FF0000" stroke-width="5.0" fill="none"/>
<path d="M1066.2 833.0H1096.2" stroke="#FF0000" stroke-width="6.6" fill="none"/><path d="M1081.2 816.5V849.5" stroke="#FF0000" stroke-width="5.0" fill="none"/>
<path d="M1073.8 833.0H1103.8" stroke="#FF0000" stroke-width="6.6" fill="none"/><path d="M1088.8 816.5V849.5" stroke="#FF0000" stroke-width="5.0" fill="none"/>
<path d="M1109.4 833.0H1139.4" stroke="#FF0000" stroke-width="6.6" fill="none"/><path d="M1124.4 816.5V849.5" stroke="#FF0000" stroke-width="5.0" fill="none"/>
<path d="M1117.1 833.0H1147.1" stroke="#FF0000" stroke-width="6.6" fill="none"/><path d="M1132.1 816.5V849.5" stroke="#FF0000" stroke-width="5.0" fill="none"/>
<path d="M1223.5 1160.6H1253.5" stroke="#FF0000" stroke-width="6.6" fill="none"/><path d="M1238.5 1144.1V1177.1" stroke="#FF0000" stroke-width="5.0" fill="none"/>
<path d="M1228.5 1160.6H1258.5" stroke="#FF0000" stroke-width="6.6" fill="none"/><path d="M1243.5 1144.1V1177.1" stroke="#FF0000" stroke-width="5.0" fill="none"/>
<path d="M1476.5 1361.0H1506.5" stroke="#FF0000" stroke-width="6.6" fill="none"/><path d="M1491.5 1344.5V1377.5" stroke="#FF0000" stroke-width="5.0" fill="none"/>
</g>
</g>
<text x="248.3" y="1684.5" font-size="41.5" fill="#4D4D4D" text-anchor="middle">0</text>
<text x="611.3" y="1684.5" font-size="41.5" fill="#4D4D4D" text-anchor="middle">1000</text>
<text x="974.3" y="1684.5" font-size="41.5" fill="#4D4D4D" text-anchor="middle">2000</text>
<text x="1336.7" y="1684.5" font-size="41.5" fill="#4D4D4D" text-anchor="middle">3000</text>
<text x="1699.6" y="1684.5" font-size="41.5" fill="#4D4D4D" text-anchor="middle">4000</text>
<text x="157" y="254.4" font-size="41.5" fill="#4D4D4D" text-anchor="end">1.00</text>
<text x="157" y="585" font-size="41.5" fill="#4D4D4D" text-anchor="end">0.75</text>
<text x="157" y="916.5" font-size="41.5" fill="#4D4D4D" text-anchor="end">0.50</text>
<text x="157" y="1250" font-size="41.5" fill="#4D4D4D" text-anchor="end">0.25</text>
<text x="157" y="1581.5" font-size="41.5" fill="#4D4D4D" text-anchor="end">0.00</text>
<text x="973" y="1741" font-size="50.5" fill="#000" text-anchor="middle">Time</text>
<text transform="translate(62.5,900.5) rotate(-90) scale(1,1.06)" font-size="48.7" fill="#000" text-anchor="middle">Survival probability</text>
<text x="277" y="1324" font-size="63" fill="#000">p &lt; 0.0001</text>
<text x="594" y="80.5" font-size="48.7" fill="#000">Strata</text>
<g filter="url(#soft)">
<path d="M754.5 57.8H815.2" stroke="#0000FF" stroke-width="6.6"/>
<rect x="751.2" y="21.2" width="70.2" height="70.2" fill="#0000FF" fill-opacity="0.3"/>
<path d="M769.8 61.3H799.8" stroke="#0000FF" stroke-width="6.6" fill="none"/><path d="M784.8 44.5V78.1" stroke="#0000FF" stroke-width="5.0" fill="none"/>
</g>
<text x="850" y="77.5" font-size="41.2" fill="#000">group=High</text>
<g filter="url(#soft)">
<path d="M1075.2 57.8H1135.9" stroke="#FF0000" stroke-width="6.6"/>
<rect x="1068.9" y="21.2" width="70.2" height="70.2" fill="#FF0000" fill-opacity="0.3"/>
<path d="M1088.8 61.3H1118.8" stroke="#FF0000" stroke-width="6.6" fill="none"/><path d="M1103.8 44.5V78.1" stroke="#FF0000" stroke-width="5.0" fill="none"/>
</g>
<text x="1170" y="77.5" font-size="41.2" fill="#000">group=Low</text>
</svg></body></html>
